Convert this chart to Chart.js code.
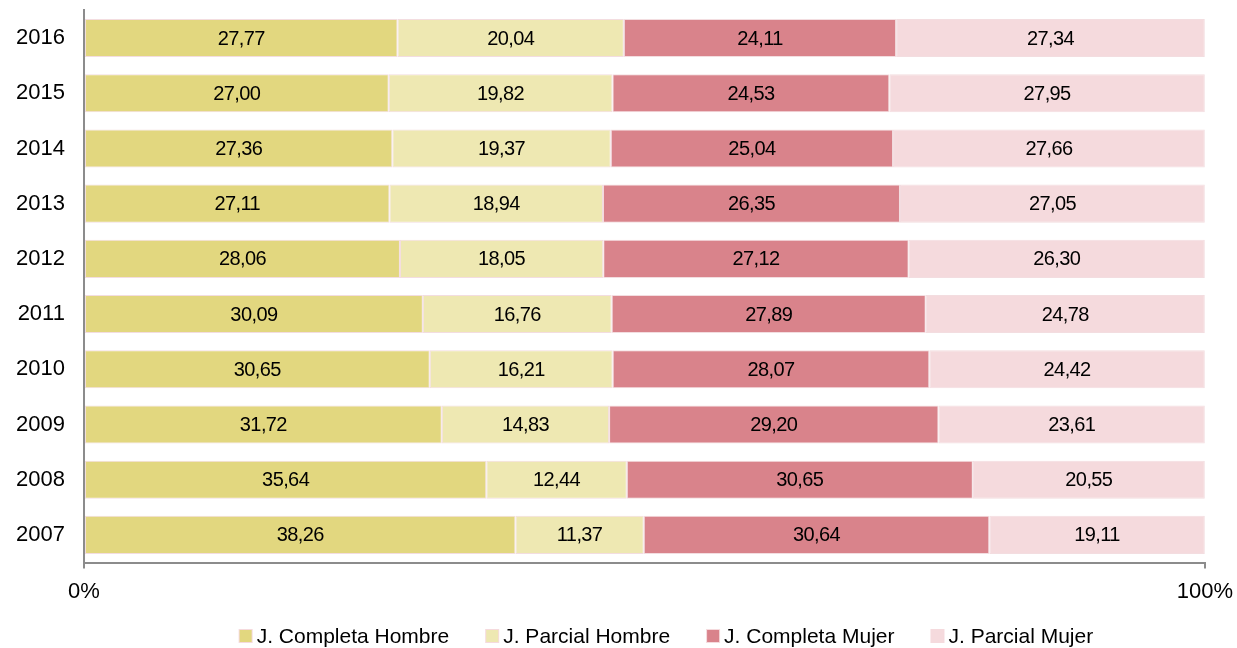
<!DOCTYPE html>
<html>
<head>
<meta charset="utf-8">
<script src="https://cdn.jsdelivr.net/npm/chart.js@4"></script>
<style>
  html, body { margin: 0; padding: 0; background: #fff; }
  #wrap { width: 1237px; height: 648px; }
</style>
</head>
<body>
<div id="wrap"><canvas id="myChart"></canvas></div>
<script>
const years = ['2016', '2015', '2014', '2013', '2012', '2011', '2010', '2009', '2008', '2007'];
const completaHombre = [27.77, 27.00, 27.36, 27.11, 28.06, 30.09, 30.65, 31.72, 35.64, 38.26];
const parcialHombre = [20.04, 19.82, 19.37, 18.94, 18.05, 16.76, 16.21, 14.83, 12.44, 11.37];
const completaMujer = [24.11, 24.53, 25.04, 26.35, 27.12, 27.89, 28.07, 29.20, 30.65, 30.64];
const parcialMujer = [27.34, 27.95, 27.66, 27.05, 26.30, 24.78, 24.42, 23.61, 20.55, 19.11];
const xTickLabels = ['0%', '100%'];

const series = [
  { label: 'J. Completa Hombre', values: completaHombre, color: '#E2D77F' },
  { label: 'J. Parcial Hombre', values: parcialHombre, color: '#EEE8B2' },
  { label: 'J. Completa Mujer', values: completaMujer, color: '#D9838B' },
  { label: 'J. Parcial Mujer', values: parcialMujer, color: '#F5DADD' }
];

// 100% stacked: each row scaled to its total
const totals = years.map((y, i) => series.reduce((s, d) => s + d.values[i], 0));

const FONT = "'Liberation Sans', Arial, sans-serif";

// raw value in the middle of each bar segment
const valueLabels = {
  id: 'valueLabels',
  afterDatasetsDraw(chart) {
    const ctx = chart.ctx;
    ctx.save();
    ctx.font = '20px ' + FONT;
    ctx.letterSpacing = '-0.6px';
    ctx.fillStyle = '#000';
    ctx.textAlign = 'center';
    ctx.textBaseline = 'middle';
    chart.data.datasets.forEach((ds, di) => {
      chart.getDatasetMeta(di).data.forEach((bar, i) => {
        const p = bar.getProps(['x', 'y', 'base'], true);
        const txt = ds.raw[i].toFixed(2).replace('.', ',');
        ctx.fillText(txt, (p.x + p.base) / 2, p.y + 1);
      });
    });
    ctx.restore();
  }
};

// legend under the axis, drawn by hand so the item spacing can follow the original
const bottomLegend = {
  id: 'bottomLegend',
  afterDraw(chart) {
    const ctx = chart.ctx;
    const area = chart.chartArea;
    const box = 12, gapBox = 5, gapItem = 37;
    ctx.save();
    ctx.font = '21px ' + FONT;
    ctx.textBaseline = 'middle';
    ctx.textAlign = 'left';
    const items = chart.data.datasets.map(ds => ({
      text: ds.label, color: ds.backgroundColor, w: ctx.measureText(ds.label).width
    }));
    const total = items.reduce((s, it) => s + box + gapBox + it.w, 0) + gapItem * (items.length - 1);
    let x = (area.left + area.right) / 2 + 22 - total / 2;
    const y = 636;
    items.forEach(it => {
      ctx.fillStyle = '#F5DADD';
      ctx.fillRect(x - 1, y - box / 2 - 1, box + 2, box + 2);
      ctx.fillStyle = it.color;
      ctx.fillRect(x, y - box / 2, box, box);
      ctx.fillStyle = '#000';
      ctx.fillText(it.text, x + box + gapBox, y + 1);
      x += box + gapBox + it.w + gapItem;
    });
    ctx.restore();
  }
};

const data = {
  labels: years,
  datasets: series.map(s => ({
    label: s.label,
    raw: s.values,
    data: s.values.map((v, i) => v / totals[i] * 100),
    backgroundColor: s.color,
    borderColor: '#F3DDE0',
    borderWidth: 1,
    borderSkipped: false,
    barPercentage: 0.69,
    categoryPercentage: 1
  }))
};

const config = {
  type: 'bar',
  data: data,
  options: {
    indexAxis: 'y',
    responsive: true,
    maintainAspectRatio: false,
    animation: false,
    layout: { padding: { left: 16, right: 32, top: 0, bottom: 33 } },
    scales: {
      x: {
        stacked: true,
        min: 0,
        max: 100,
        border: { color: '#8C8C8C', width: 2 },
        grid: { drawOnChartArea: false, color: '#8C8C8C', tickLength: 6, lineWidth: 2 },
        afterBuildTicks(axis) {
          axis.ticks = [{ value: 0 }, { value: 100 }];
        },
        ticks: {
          color: '#000',
          font: { family: FONT, size: 22, lineHeight: 1.75 },
          padding: 4,
          maxRotation: 0,
          callback: (v) => v === 0 ? xTickLabels[0] : xTickLabels[1]
        }
      },
      y: {
        stacked: true,
        border: { color: '#8C8C8C', width: 2 },
        grid: { display: false, tickLength: 19 },
        ticks: {
          color: '#000',
          font: { family: FONT, size: 22, lineHeight: 0.95 },
          padding: 0
        }
      }
    },
    plugins: {
      legend: { display: false },
      tooltip: { enabled: false }
    }
  },
  plugins: [valueLabels, bottomLegend]
};

const myChart = new Chart(document.getElementById('myChart').getContext('2d'), config);
</script>
</body>
</html>
